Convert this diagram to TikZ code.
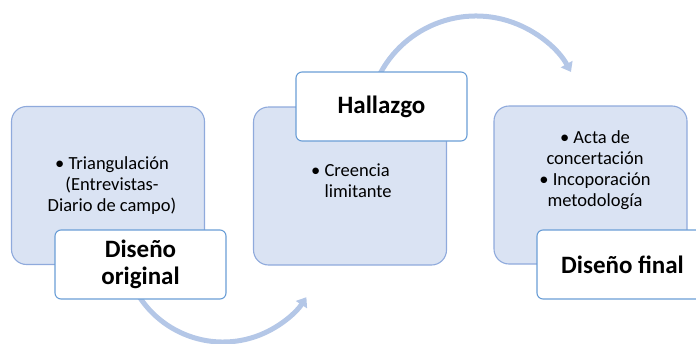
\documentclass[tikz,border=0pt]{standalone}
\usepackage{fontspec}
\setmainfont{Carlito}
\usetikzlibrary{arrows.meta}
\definecolor{boxfill}{HTML}{DAE3F3}
\definecolor{boxline}{HTML}{8FAADC}
\definecolor{labline}{HTML}{6A9ED6}
\definecolor{arrowc}{HTML}{B4C7E7}
\tikzset{
  bigbox/.style={draw=boxline, fill=boxfill, line width=1.1pt, rounded corners=15pt,
    minimum width=193pt, minimum height=158pt, inner sep=0pt},
  labbox/.style={draw=labline, fill=white, line width=1.1pt, rounded corners=6pt,
    minimum width=171pt, minimum height=69pt, inner sep=0pt, align=center,
    font=\fontsize{25}{27}\selectfont\bfseries},
  bodytext/.style={inner sep=0pt, font=\fontsize{18.5}{21}\selectfont},
  flowarrow/.style={draw=arrowc, line width=5pt, -{Triangle[width=13pt,length=9pt]}}
}
\begin{document}
\begin{tikzpicture}[x=1pt,y=-1pt]
\useasboundingbox (0,0) rectangle (696,343);
\clip (0,0) rectangle (696,343);
% arrows (behind everything)
\coordinate (a1s) at ({223+100*cos(155)},{242+100*sin(155)});
\draw[flowarrow] (a1s) arc[start angle=155, end angle=33.5, radius=100];
\coordinate (a2s) at ({476+108.6*cos(200)},{124.6+108.6*sin(200)});
\draw[flowarrow] (a2s) arc[start angle=200, end angle=331, radius=108.6];
% boxes
\node[bigbox] (b1) at (108,185.5) {};
\node[bigbox] (b2) at (350,186) {};
\node[bigbox] (b3) at (590.5,185) {};
% body text
\node[bodytext, align=center] (t1) at (112,186) {\textbullet\ Triangulación\\(Entrevistas-\\Diario de campo)};
\node[bodytext, align=left, anchor=west] (t2) at (311,181) {\textbullet\ Creencia\\\phantom{\textbullet\ }limitante};
\node[bodytext, align=center] (t3) at (595,170) {\textbullet\ Acta de\\concertación\\\textbullet\ Incoporación\\metodología};
% labels
\node[labbox] (l1) at (140.5,264.5) {Diseño\\original};
\node[labbox] (l2) at (381.5,106.5) {Hallazgo};
\node[labbox] (l3) at (622.5,264.5) {Diseño final};
\end{tikzpicture}
\end{document}
